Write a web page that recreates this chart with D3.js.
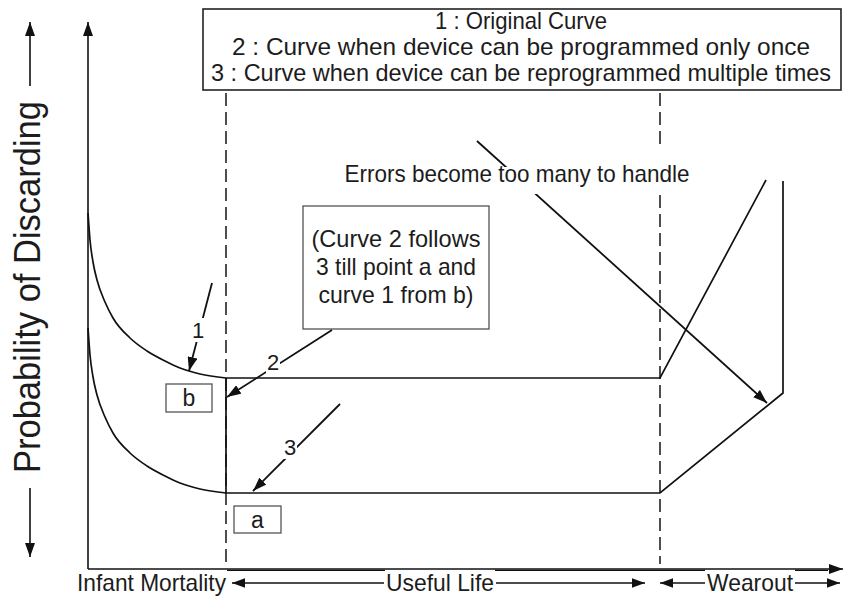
<!DOCTYPE html>
<html><head><meta charset="utf-8">
<script src="https://cdn.jsdelivr.net/npm/d3@7"></script>
<style>
body{margin:0;background:#fff}
text{font-family:"Liberation Sans",Arial,Helvetica,sans-serif;fill:#1c1c1c}
</style>
</head><body>
<svg id="c" width="844" height="599"></svg>
<script>
// ---- data (time units along x, probability units along y) ----
const curve1Decay = [[0,356],[2,329],[5,307],[9,289],[17,267],[25,251],[42,231],[59,218],[77,208],[92,201],[112,195],[138,191]];
const curve1Tail  = [[138,191],[572,191],[678,389]];
const curve3Decay = [[0,241],[2,214],[5,192],[9,174],[17,152],[25,136],[42,116],[59,103],[77,93],[92,86],[112,80],[138,76]];
const curve3Tail  = [[138,76],[572,76],[695,176],[695,388]];
const curve2Jump  = [[138,191],[138,76]];
const phaseBounds = [138, 572];
const legendLines = ["1 : Original Curve","2 : Curve when device can be programmed only once","3 : Curve when device can be reprogrammed multiple times"];
const noteLines   = ["(Curve 2 follows","3 till point a and","curve 1 from b)"];
const phaseLabels = ["Infant Mortality","Useful Life","Wearout"];
const yLabel      = "Probability of Discarding";
const errorLabel  = "Errors become too many to handle";
const curveTags   = ["1","2","3"];
const pointTags   = ["a","b"];

const svg = d3.select("#c");
const x = d3.scaleLinear().domain([0,750]).range([88,838]);
const y = d3.scaleLinear().domain([0,550]).range([569,19]);

// arrow markers
const defs = svg.append("defs");
defs.append("marker").attr("id","ah").attr("viewBox","0 0 14 10")
  .attr("refX",14).attr("refY",5).attr("markerWidth",14).attr("markerHeight",10)
  .attr("markerUnits","userSpaceOnUse").attr("orient","auto")
  .append("path").attr("d","M0,0 L14,5 L0,10 z").attr("fill","#111");
defs.append("marker").attr("id","ah2").attr("viewBox","0 0 14 10")
  .attr("refX",14).attr("refY",5).attr("markerWidth",13).attr("markerHeight",10)
  .attr("markerUnits","userSpaceOnUse").attr("orient","auto")
  .append("path").attr("d","M0,0 L14,5 L0,10 z").attr("fill","#111");

// phase boundary dashed lines
const dashStyle = s => s.attr("stroke","#222").attr("stroke-width",1.6).attr("stroke-dasharray","13,6");
dashStyle(svg.append("line").attr("x1",x(phaseBounds[0])).attr("x2",x(phaseBounds[0])).attr("y1",93).attr("y2",y(5)));
dashStyle(svg.append("line").attr("x1",x(phaseBounds[1])).attr("x2",x(phaseBounds[1])).attr("y1",93).attr("y2",150));
dashStyle(svg.append("line").attr("x1",x(phaseBounds[1])).attr("x2",x(phaseBounds[1])).attr("y1",195).attr("y2",y(5)));

// curves
const smooth = d3.line().x(d=>x(d[0])).y(d=>y(d[1])).curve(d3.curveMonotoneX);
const straight = d3.line().x(d=>x(d[0])).y(d=>y(d[1]));
const curveStyle = p => p.attr("fill","none").attr("stroke","#111").attr("stroke-width",1.7);
curveStyle(svg.append("path").attr("d",smooth(curve1Decay)));
curveStyle(svg.append("path").attr("d",straight(curve1Tail)));
curveStyle(svg.append("path").attr("d",smooth(curve3Decay)));
curveStyle(svg.append("path").attr("d",straight(curve3Tail)));
curveStyle(svg.append("path").attr("d",straight(curve2Jump)).attr("stroke-width",2.2));

// axes
svg.append("line").attr("x1",x(0)).attr("x2",x(0)).attr("y1",y(0)).attr("y2",22)
  .attr("stroke","#111").attr("stroke-width",1.6).attr("marker-end","url(#ah)");
svg.append("line").attr("x1",x(0)).attr("x2",843).attr("y1",y(0)).attr("y2",y(0))
  .attr("stroke","#111").attr("stroke-width",1.6).attr("marker-end","url(#ah)");
[[227,385],[495,705],[795,828]].forEach(s=>{
  svg.append("line").attr("x1",s[0]).attr("x2",s[1]).attr("y1",y(0)+1.3).attr("y2",y(0)+1.3)
   .attr("stroke","#111").attr("stroke-width",1.2);
});

// legend box
svg.append("rect").attr("x",203).attr("y",9).attr("width",638).attr("height",81)
  .attr("fill","#fff").attr("stroke","#222").attr("stroke-width",1.6);
const legendLens=[172,578,620];
legendLines.forEach((t,i)=>{
  svg.append("text").attr("x",521).attr("y",29+i*26).attr("text-anchor","middle")
    .attr("font-size",24).attr("textLength",legendLens[i]).attr("lengthAdjust","spacingAndGlyphs").text(t);
});

// note box
svg.append("rect").attr("x",303).attr("y",206).attr("width",186).attr("height",123)
  .attr("fill","#fff").attr("stroke","#444").attr("stroke-width",1.2);
const noteLens=[169,160,155];
noteLines.forEach((t,i)=>{
  svg.append("text").attr("x",396).attr("y",247+i*28).attr("text-anchor","middle")
    .attr("font-size",24).attr("textLength",noteLens[i]).attr("lengthAdjust","spacingAndGlyphs").text(t);
});

// errors arrow
svg.append("line").attr("x1",477).attr("y1",141).attr("x2",767).attr("y2",403)
  .attr("stroke","#111").attr("stroke-width",1.8).attr("marker-end","url(#ah)");
svg.append("rect").attr("x",343).attr("y",167).attr("width",349).attr("height",27).attr("fill","#fff");
svg.append("text").attr("x",517).attr("y",182).attr("text-anchor","middle").attr("font-size",24)
  .attr("textLength",345).attr("lengthAdjust","spacingAndGlyphs").text(errorLabel);

// numbered callout arrows
const callouts = [
  {from:[212,283], to:[189,371], lab:[198,330]},
  {from:[332,330], to:[227,397], lab:[273,362]},
  {from:[340,404], to:[253,491], lab:[290,447]}
];
callouts.forEach((c,i)=>{
  svg.append("line").attr("x1",c.from[0]).attr("y1",c.from[1]).attr("x2",c.to[0]).attr("y2",c.to[1])
    .attr("stroke","#111").attr("stroke-width",1.8).attr("marker-end","url(#ah)");
  svg.append("rect").attr("x",c.lab[0]-7).attr("y",c.lab[1]-12).attr("width",14).attr("height",24).attr("fill","#fff");
  svg.append("text").attr("x",c.lab[0]).attr("y",c.lab[1]+8).attr("text-anchor","middle")
    .attr("font-size",22).text(curveTags[i]);
});

// point boxes a, b
const pts = [{t:pointTags[0], bx:234, by:506, w:47, h:27},{t:pointTags[1], bx:166, by:384, w:46, h:28}];
pts.forEach(p=>{
  svg.append("rect").attr("x",p.bx).attr("y",p.by).attr("width",p.w).attr("height",p.h)
    .attr("fill","#fff").attr("stroke","#555").attr("stroke-width",1.3);
  svg.append("text").attr("x",p.bx+p.w/2).attr("y",p.by+p.h/2+8).attr("text-anchor","middle")
    .attr("font-size",23).text(p.t);
});

// y label with arrows
svg.append("text").attr("transform","translate(40,287) rotate(-90)").attr("text-anchor","middle")
  .attr("font-size",36).attr("textLength",372).attr("lengthAdjust","spacingAndGlyphs").text(yLabel);
svg.append("line").attr("x1",30).attr("x2",30).attr("y1",86).attr("y2",22)
  .attr("stroke","#111").attr("stroke-width",1.6).attr("marker-end","url(#ah)");
svg.append("line").attr("x1",30).attr("x2",30).attr("y1",488).attr("y2",557)
  .attr("stroke","#111").attr("stroke-width",1.6).attr("marker-end","url(#ah)");

// phase labels with arrows
const baseY = 591, arrY = 583;
svg.append("text").attr("x",77).attr("y",baseY).attr("font-size",24)
  .attr("textLength",149).attr("lengthAdjust","spacingAndGlyphs").text(phaseLabels[0]);
svg.append("text").attr("x",440).attr("y",baseY).attr("text-anchor","middle").attr("font-size",24)
  .attr("textLength",108).attr("lengthAdjust","spacingAndGlyphs").text(phaseLabels[1]);
svg.append("text").attr("x",750).attr("y",baseY).attr("text-anchor","middle").attr("font-size",24)
  .attr("textLength",86).attr("lengthAdjust","spacingAndGlyphs").text(phaseLabels[2]);
const phArrows = [[384,232],[496,645],[705,660],[795,840]];
phArrows.forEach(a=>{
  svg.append("line").attr("x1",a[0]).attr("x2",a[1]).attr("y1",arrY).attr("y2",arrY)
    .attr("stroke","#111").attr("stroke-width",1.6).attr("marker-end","url(#ah2)");
});
</script>
</body></html>
